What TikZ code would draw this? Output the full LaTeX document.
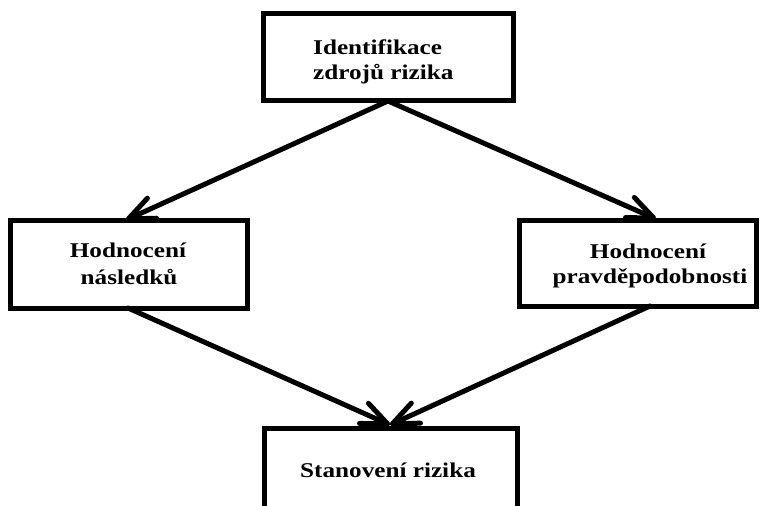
\documentclass[tikz,border=0pt]{standalone}
\usepackage{fontspec}
\setmainfont{Liberation Serif}
\usepackage{graphicx}
\usetikzlibrary{arrows.meta}
\tikzset{
  box/.style={draw=black, line width=5pt, fill=white, inner sep=0pt},
  lbl/.style={font=\fontsize{21}{25}\selectfont\bfseries, inner sep=0pt, anchor=base, align=center},
  conn/.style={line width=5pt, line cap=round, -{Straight Barb[length=26pt,width=22pt,line width=5pt,round]}}
}
\newcommand{\sx}[1]{\scalebox{1.2}[1]{#1}}
\begin{document}
\begin{tikzpicture}[x=1pt,y=-1pt]
\useasboundingbox (0,0) rectangle (761,506);
\clip (0,0) rectangle (761,506);
\fill[white] (0,0) rectangle (761,506);
% boxes
\node[box, minimum width=250pt, minimum height=87pt] (top) at (388,56.5) {};
\node[box, minimum width=237pt, minimum height=88pt] (left) at (128.5,264) {};
\node[box, minimum width=237pt, minimum height=86pt] (right) at (637.5,263) {};
\node[box, minimum width=253pt, minimum height=120pt] (bot) at (391,488) {};
% texts
\node[lbl, anchor=base west] (t1) at (313,54) {\sx{Identifikace}};
\node[lbl, anchor=base west] (t2) at (313,79) {\sx{zdrojů rizika}};
\node[lbl] (l1) at (128,257) {\sx{Hodnocení}};
\node[lbl] (l2) at (129,284) {\sx{následků}};
\node[lbl] (r1) at (648,258) {\sx{Hodnocení}};
\node[lbl] (r2) at (650,283) {\sx{pravděpodobnosti}};
\node[lbl] (b1) at (388,477) {\sx{Stanovení rizika}};
% connector endpoints
\coordinate (tsrc) at (388,101);
\coordinate (ltip) at (126,220);
\coordinate (rtip) at (656,219);
\coordinate (lsrc) at (128,308);
\coordinate (rsrc) at (650,306);
\coordinate (btip) at (390,425);
\draw[conn] (tsrc) -- (ltip);
\draw[conn] (tsrc) -- (rtip);
\draw[conn] (lsrc) -- (btip);
\draw[conn] (rsrc) -- (btip);
\end{tikzpicture}
\end{document}
